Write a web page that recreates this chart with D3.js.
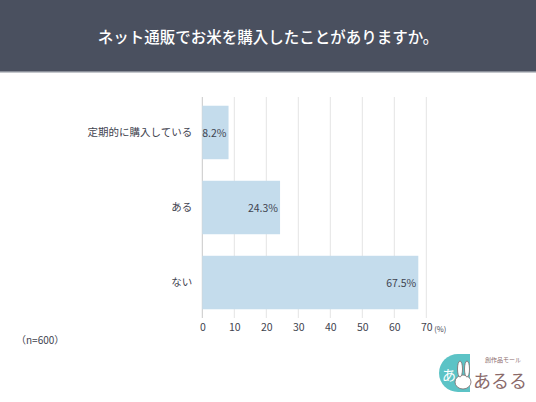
<!DOCTYPE html>
<html>
<head>
<meta charset="utf-8">
<script src="https://cdn.jsdelivr.net/npm/d3@7"></script>
<style>
  body { margin: 0; background: #fff; }
  text { font-family: "Noto Sans CJK JP", "Noto Sans", sans-serif; }
</style>
</head>
<body>
<script>
var w = 536;
var h = 402;

var title = "ネット通販でお米を購入したことがありますか。";
var categories = ["定期的に購入している", "ある", "ない"];
var values = [8.2, 24.3, 67.5];
var xTicks = [0, 10, 20, 30, 40, 50, 60, 70];
var note = "（n=600）";

var svg = d3.select("body")
            .append("svg")
            .attr("width", w)
            .attr("height", h);

// header band
svg.append("rect")
   .attr("x", 0).attr("y", 0)
   .attr("width", w).attr("height", 71)
   .attr("fill", "#4a505f");
svg.append("rect")
   .attr("x", 0).attr("y", 71)
   .attr("width", w).attr("height", 1.5)
   .attr("fill", "#8a8f99");

svg.append("text")
   .attr("x", w / 2)
   .attr("y", 36)
   .attr("text-anchor", "middle")
   .attr("dominant-baseline", "central")
   .attr("fill", "#ffffff")
   .attr("font-size", 15.5)
   .attr("font-weight", 500)
   .text(title);

var xScale = d3.scaleLinear()
               .domain([0, 70])
               .range([202.3, 426.3]);

var yScale = d3.scaleBand()
               .domain(categories)
               .range([95, 320])
               .paddingInner(0.287)
               .paddingOuter(0.143);

// grid lines
svg.selectAll("gridLines")
   .data(xTicks)
   .enter()
   .append("line")
   .attr("x1", function(d) { return xScale(d); })
   .attr("x2", function(d) { return xScale(d); })
   .attr("y1", 97)
   .attr("y2", 318)
   .attr("stroke", function(d) { return d == 0 ? "#c8c8c8" : "#e4e4e4"; })
   .attr("stroke-width", 1);

// bars
svg.selectAll("bars")
   .data(values)
   .enter()
   .append("rect")
   .attr("x", xScale(0))
   .attr("y", function(d, i) { return yScale(categories[i]); })
   .attr("width", function(d) { return xScale(d) - xScale(0); })
   .attr("height", yScale.bandwidth())
   .attr("fill", "#c4dcec");

// value labels
svg.selectAll("valueLabels")
   .data(values)
   .enter()
   .append("text")
   .attr("x", function(d) { return xScale(d) - 2; })
   .attr("y", function(d, i) { return yScale(categories[i]) + yScale.bandwidth() / 2; })
   .attr("text-anchor", "end")
   .attr("dominant-baseline", "central")
   .attr("font-family", "Lato, 'Noto Sans', sans-serif")
   .attr("font-size", 10.5)
   .attr("fill", "#3f4450")
   .text(function(d) { return d.toFixed(1) + "%"; });

// category axis
var yAxis = d3.axisLeft()
              .scale(yScale)
              .tickSize(0)
              .tickPadding(10);

var gy = svg.append("g")
   .attr("transform", "translate(" + xScale(0) + ",0)")
   .call(yAxis);
gy.select(".domain").remove();
gy.selectAll("text")
  .attr("font-size", 10.5)
  .attr("fill", "#3f4450")
  .attr("font-family", "'Noto Sans CJK JP', sans-serif");

// value axis
var xAxis = d3.axisBottom()
              .scale(xScale)
              .tickValues(xTicks)
              .tickSize(0)
              .tickPadding(6);

var gx = svg.append("g")
   .attr("transform", "translate(0,318)")
   .call(xAxis);
gx.select(".domain").remove();
gx.selectAll("text")
  .attr("font-size", 10.5)
  .attr("fill", "#3f4450")
  .attr("font-family", "Lato, 'Noto Sans', sans-serif");

svg.append("text")
   .attr("x", xScale(70) + 8)
   .attr("y", 332)
   .attr("font-size", 7.5)
   .attr("fill", "#3f4450")
   .text("(%)");

svg.append("text")
   .attr("x", 16)
   .attr("y", 344)
   .attr("font-size", 10)
   .attr("fill", "#3f4450")
   .text(note);

// logo
var logo = svg.append("g").attr("transform", "translate(440,352)");
logo.append("path")
    .attr("d", "M18,2 A18,18 0 1,0 18,40 L30,40 L30,2 Z")
    .attr("fill", "#5cc3c6");
logo.append("text")
    .attr("x", 2).attr("y", 28)
    .attr("font-size", 14)
    .attr("fill", "#ffffff")
    .text("あ");
logo.append("ellipse")
    .attr("cx", 23).attr("cy", 30).attr("rx", 8).attr("ry", 7)
    .attr("fill", "#ffffff").attr("stroke", "#7a6a6a").attr("stroke-width", 0.8);
logo.append("ellipse")
    .attr("cx", 20).attr("cy", 17).attr("rx", 2.5).attr("ry", 8)
    .attr("fill", "#ffffff").attr("stroke", "#7a6a6a").attr("stroke-width", 0.8);
logo.append("ellipse")
    .attr("cx", 27).attr("cy", 17).attr("rx", 2.5).attr("ry", 8)
    .attr("fill", "#ffffff").attr("stroke", "#7a6a6a").attr("stroke-width", 0.8);
logo.append("text")
    .attr("x", 45).attr("y", 10)
    .attr("font-size", 6)
    .attr("fill", "#8a6a6a")
    .text("創作品モール");
logo.append("text")
    .attr("x", 33).attr("y", 36)
    .attr("font-size", 18)
    .attr("fill", "#8a6a6a")
    .text("あるる");
</script>
</body>
</html>
